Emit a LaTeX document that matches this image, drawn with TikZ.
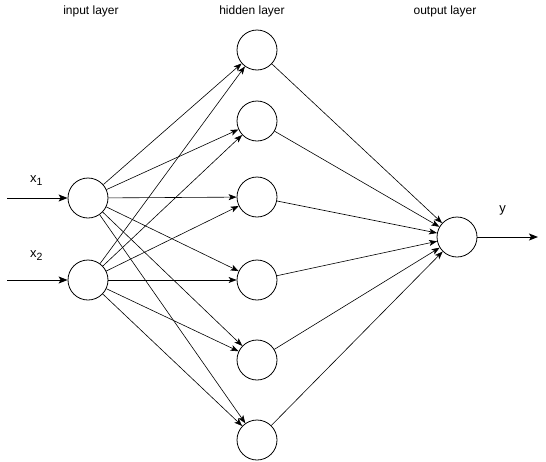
\documentclass[tikz,border=0pt]{standalone}
\usepackage{fontspec}
\setmainfont{Liberation Sans}
\usetikzlibrary{arrows.meta}
\newcommand{\mysub}[1]{\raisebox{-0.28em}{\fontsize{10.5}{12}\selectfont #1}}
\begin{document}
\begin{tikzpicture}[x=1pt,y=-1pt,
  neuron/.style={circle,draw,line width=0.8pt,minimum size=40pt,inner sep=0pt},
  conn/.style={line width=0.6pt,-{Stealth[length=8pt,width=6pt,inset=2pt]}},
  io/.style={line width=1pt,-{Stealth[length=9pt,width=7pt,inset=2pt]}},
  lbl/.style={font=\fontsize{12}{14}\selectfont},
  var/.style={font=\fontsize{13}{15}\selectfont,inner sep=0pt}]
\useasboundingbox (0,0) rectangle (546,461);
% layer labels
\node[lbl] (li) at (91,11) {input layer};
\node[lbl] (lh) at (252,11) {hidden layer};
\node[lbl] (lo) at (445,11) {output layer};
% neurons
\node[neuron] (i1) at (88,198) {};
\node[neuron] (i2) at (88,280) {};
\node[neuron] (h1) at (257,50) {};
\node[neuron] (h2) at (257,121) {};
\node[neuron] (h3) at (257,197) {};
\node[neuron] (h4) at (257,280) {};
\node[neuron] (h5) at (257,360) {};
\node[neuron] (h6) at (257,440) {};
\node[neuron] (o) at (457,237) {};
% inputs and output
\coordinate (in1) at (7,198);
\coordinate (in2) at (7,280);
\coordinate (out) at (538,237);
\draw[io] (in1) -- (i1);
\draw[io] (in2) -- (i2);
\draw[io] (o) -- (out);
\node[var,anchor=base west] (x1) at (30,182) {x\mysub{1}};
\node[var,anchor=base west] (x2) at (30,257) {x\mysub{2}};
\node[var,anchor=base] (y) at (502.5,212.6) {y};
% connections
\foreach \a in {i1,i2}{
  \foreach \b in {h1,h2,h3,h4,h5,h6}{
    \draw[conn] (\a) -- (\b);
  }
}
\foreach \b in {h1,h2,h3,h4,h5,h6}{
  \draw[conn] (\b) -- (o);
}
\end{tikzpicture}
\end{document}
